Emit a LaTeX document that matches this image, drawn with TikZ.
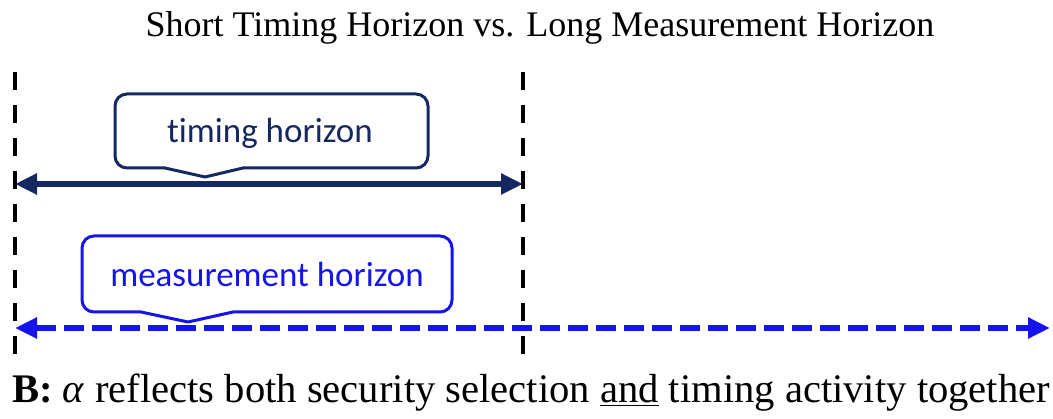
\documentclass[tikz,border=0pt]{standalone}
\usepackage{fontspec}
\setmainfont{Liberation Serif}
\newfontfamily\calfont[Ligatures=NoCommon]{Carlito}
\usetikzlibrary{arrows.meta}
\definecolor{navy}{RGB}{22,40,98}
\definecolor{mblue}{RGB}{20,20,235}
\tikzset{
  vguide/.style={line width=3.5pt, black, dash pattern=on 18pt off 15pt},
  tbar/.style={line width=6pt, navy, {Triangle[length=22pt,width=20pt]}-{Triangle[length=22pt,width=20pt]}},
  mbar/.style={line width=6pt, mblue, dash pattern=on 20pt off 8pt, {Triangle[length=22pt,width=20pt]}-{Triangle[length=22pt,width=20pt]}},
  lbl/.style={font=\calfont\fontsize{35}{40}\selectfont, inner sep=0pt, anchor=base},
  callline/.style={line width=3pt, line join=round, line cap=round},
}
\begin{document}
\begin{tikzpicture}[x=1pt,y=-1pt]
\useasboundingbox (0,0) rectangle (1053,419);
% title
\node[font=\fontsize{36}{40}\selectfont, inner sep=0pt, anchor=base] (title) at (540,37) {Short Timing Horizon vs. Long Measurement Horizon};
% vertical guides
\coordinate (LT) at (15,72);
\coordinate (LB) at (15,360);
\coordinate (RT) at (523,72);
\coordinate (RB) at (523,360);
\draw[vguide] (LT) -- (LB);
\draw[vguide] (RT) -- (RB);
% timing horizon
\coordinate (ta) at (15,184);
\coordinate (tb) at (523,184);
\draw[tbar] (ta) -- (tb);
\node[lbl, text=navy] (tlab) at (270,143) {timing horizon};
\draw[callline, navy, rounded corners=12pt] (165,168) -- (115,168) -- (115,94) -- (428,94) -- (428,168) -- (243,168);
\draw[callline, navy] (243,168) -- (205,177) -- (165,168);
% measurement horizon
\coordinate (ma) at (15,328);
\coordinate (mb) at (1050,328);
\draw[mbar] (ma) -- (mb);
\node[lbl, text=mblue] (mlab) at (267,287) {measurement horizon};
\draw[callline, mblue, rounded corners=12pt] (141,312) -- (82,312) -- (82,236) -- (452,236) -- (452,312) -- (233,312);
\draw[callline, mblue] (233,312) -- (188,322) -- (141,312);
% caption
\node[font=\fontsize{40.6}{44}\selectfont, inner sep=0pt, anchor=base west] (cap) at (12,403) {\textbf{B:} \textit{α} reflects both security selection \underline{and} timing activity together};
\end{tikzpicture}
\end{document}
